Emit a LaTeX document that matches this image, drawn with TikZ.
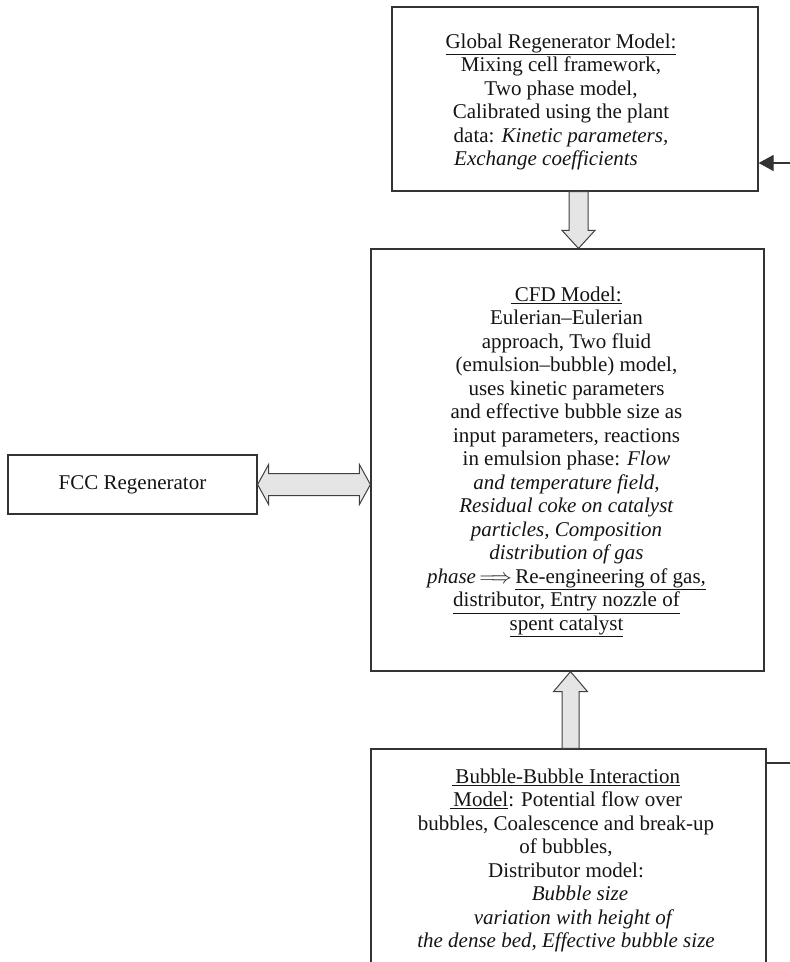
\documentclass[tikz,border=0pt]{standalone}
\usepackage{fontspec}
\setmainfont{Liberation Serif}
\usetikzlibrary{arrows.meta,calc}
\begin{document}
\begin{tikzpicture}[x=1pt,y=-1pt,
  box/.style={draw=black!80,line width=1.2pt,inner sep=0pt},
  txt/.style={align=center,inner sep=0pt,anchor=north,font=\fontsize{21}{23.5}\selectfont,text=black!92},
  blk/.style={draw=black!75,fill=black!10,line width=1pt,line join=miter},
  lnk/.style={draw=black!80,line width=1.2pt}]
\useasboundingbox (0,0) rectangle (790,962);
\clip (0,0) rectangle (790,962);
% boxes
\node[box,minimum width=366pt,minimum height=184pt] (top) at (575,99) {};
\node[box,minimum width=393pt,minimum height=422pt] (cfd) at (567.5,460) {};
\node[box,minimum width=249pt,minimum height=59pt] (fcc) at (132.5,484.5) {};
\node[box,minimum width=395pt,minimum height=240pt] (bub) at (568.5,869) {};
% texts
\node[txt] (toptxt) at (561,33.7) {\underline{Global Regenerator Model:}\\
Mixing cell framework,\\
Two phase model,\\
Calibrated using the plant\\
data: \textit{Kinetic parameters,}\\
\textit{Exchange coefficients}\hspace*{30pt}};
\node[txt] (cfdtxt) at (566.5,286.7) {\underline{\,CFD Model:}\\
Eulerian--Eulerian\\
approach, Two fluid\\
(emulsion--bubble) model,\\
uses kinetic parameters\\
and effective bubble size as\\
input parameters, reactions\\
in emulsion phase: \textit{Flow}\\
\textit{and temperature field,}\\
\textit{Residual coke on catalyst}\\
\textit{particles, Composition}\\
\textit{distribution of gas}\\
\textit{phase}\,$\Longrightarrow$\,\underline{Re-engineering of gas\textit{,}}\\
\underline{distributor, Entry nozzle of}\\
\underline{spent catalyst}};
\node[txt,anchor=center] (fcctxt) at (fcc.center) {FCC Regenerator};
\node[txt] (bubtxt) at (566,768.7) {\underline{\,Bubble-Bubble Interaction}\\
\underline{\,Model}: Potential flow over\\
bubbles, Coalescence and break-up\hspace*{17pt}\\
of bubbles,\\
Distributor model:\\
\hspace*{28pt}\textit{Bubble size}\\
\hspace*{16pt}\textit{variation with height of}\\
\textit{the dense bed, Effective bubble size}};
% down block arrow
\coordinate (dtop) at ($(top.south)+(3.5,0)$);
\coordinate (dtip) at (dtop |- cfd.north);
\draw[blk] ($(dtop)+(-9.5,0)$) -- ($(dtip)+(-9.5,-18)$) -- ($(dtip)+(-16.5,-18)$) -- (dtip)
  -- ($(dtip)+(16.5,-18)$) -- ($(dtip)+(9.5,-18)$) -- ($(dtop)+(9.5,0)$) -- cycle;
% up block arrow
\coordinate (ubot) at ($(bub.north)+(2,0)$);
\coordinate (utip) at (ubot |- cfd.south);
\draw[blk] ($(ubot)+(-8.5,0)$) -- ($(utip)+(-8.5,20)$) -- ($(utip)+(-17,20)$) -- (utip)
  -- ($(utip)+(17,20)$) -- ($(utip)+(8.5,20)$) -- ($(ubot)+(8.5,0)$) -- cycle;
% double block arrow
\coordinate (rtip) at (cfd.west |- fcc.east);
\draw[blk] (fcc.east) -- ($(fcc.east)+(11,-20)$) -- ($(fcc.east)+(11,-11)$)
  -- ($(rtip)+(-11,-11)$) -- ($(rtip)+(-11,-20)$) -- (rtip)
  -- ($(rtip)+(-11,20)$) -- ($(rtip)+(-11,11)$) -- ($(fcc.east)+(11,11)$)
  -- ($(fcc.east)+(11,20)$) -- cycle;
% side connectors
\coordinate (inA) at (800,163);
\draw[lnk,-{Triangle[length=15pt,width=16pt]}] (inA) -- (inA -| top.east);
\coordinate (outB) at (800,763);
\draw[lnk] (outB -| bub.east) -- (outB);
\end{tikzpicture}
\end{document}
